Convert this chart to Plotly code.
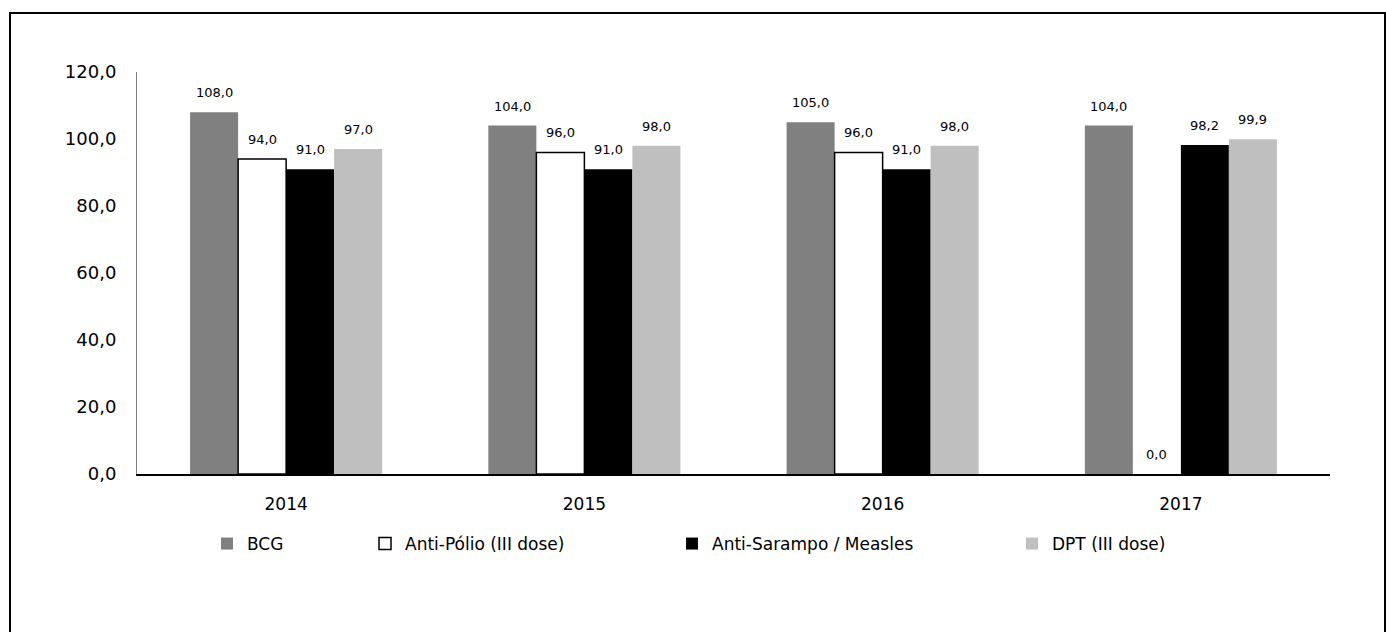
import plotly.graph_objects as go

years = ["2014", "2015", "2016", "2017"]
bcg = [108.0, 104.0, 105.0, 104.0]
anti_polio = [94.0, 96.0, 96.0, 0.0]
measles = [91.0, 91.0, 91.0, 98.2]
dpt = [97.0, 98.0, 98.0, 99.9]

series = [
    ("BCG", bcg, "#808080", None),
    ("Anti-Pólio (III dose)", anti_polio, "#ffffff", "#000000"),
    ("Anti-Sarampo / Measles", measles, "#000000", None),
    ("DPT (III dose)", dpt, "#bfbfbf", None),
]

# figure geometry (pixels)
W, H = 1386, 632
ML, MR, MT, MB = 137, 56, 72, 158
PW = W - ML - MR
PH = H - MT - MB
BARGAP = 0.356
bar_px = PW / len(years) * (1 - BARGAP) / len(series)

legend_px = [221, 379, 686, 1026]  # left edge of each legend symbol
FONT = "DejaVu Sans"

fig = go.Figure()
layout_legends = {}
for i, (name, vals, color, edge) in enumerate(series):
    lg = "legend" if i == 0 else f"legend{i + 1}"
    fig.add_trace(
        go.Bar(
            x=years,
            y=vals,
            name=name,
            legend=lg,
            marker=dict(
                color=color,
                line=dict(
                    color=edge or color,
                    width=[1.5 if (edge and v > 0) else 0 for v in vals],
                ),
            ),
        )
    )
    layout_legends[lg] = dict(
        x=(legend_px[i] - 14 - ML) / PW,
        xanchor="left",
        y=-(544 - (H - MB)) / PH,
        yanchor="middle",
        orientation="h",
        font=dict(family=FONT, size=17, color="#000000"),
        bgcolor="rgba(0,0,0,0)",
        borderwidth=0,
    )
    # value labels above each bar (x = category index)
    for j, v in enumerate(vals):
        fig.add_annotation(
            x=j,
            y=v,
            xshift=(i - 1.5) * bar_px,
            yshift=10,
            yanchor="bottom",
            text=f"{v:.1f}".replace(".", ","),
            showarrow=False,
            font=dict(family=FONT, size=13, color="#000000"),
        )

# outer frame
fig.add_shape(
    type="rect",
    xref="paper",
    yref="paper",
    x0=(10 - ML) / PW,
    x1=(1385 - ML) / PW,
    y0=-(H + 20 - (H - MB)) / PH,
    y1=(H - MB - 13) / PH,
    line=dict(color="#000000", width=2),
    layer="below",
)

fig.update_layout(
    width=W,
    height=H,
    margin=dict(l=ML, r=MR, t=MT, b=MB),
    barmode="group",
    bargap=BARGAP,
    bargroupgap=0,
    separators=",.",
    plot_bgcolor="#ffffff",
    paper_bgcolor="#ffffff",
    showlegend=True,
    font=dict(family=FONT, color="#000000"),
    xaxis=dict(
        type="category",
        range=[-0.5, len(years) - 0.5],
        showgrid=False,
        showline=True,
        linecolor="#000000",
        linewidth=1.5,
        ticks="",
        ticklabelstandoff=14,
        tickfont=dict(family=FONT, size=17, color="#000000"),
    ),
    yaxis=dict(
        range=[0, 120],
        dtick=20,
        tickformat=".1f",
        showgrid=False,
        zeroline=False,
        showline=True,
        linecolor="#7f7f7f",
        linewidth=1,
        ticks="",
        ticklabelstandoff=16,
        tickfont=dict(family=FONT, size=18, color="#000000"),
    ),
    **layout_legends,
)

fig.write_html(
    "out.html",
    config={"displayModeBar": False},
    post_script="document.body.style.margin='0';",
)
